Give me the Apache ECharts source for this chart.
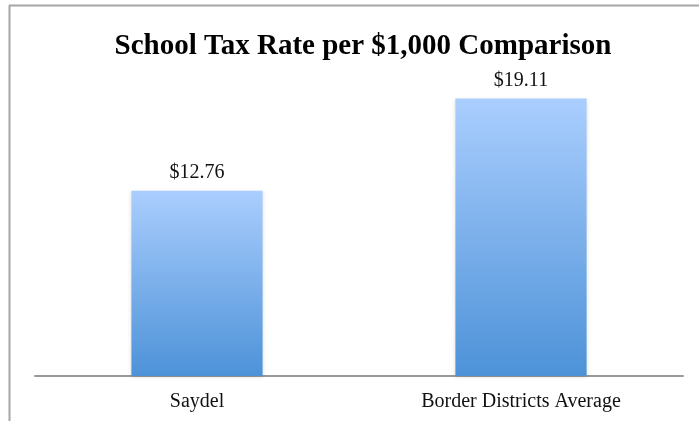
<!DOCTYPE html>
<html><head><meta charset="utf-8">
<script src="https://cdn.jsdelivr.net/npm/echarts@6/dist/echarts.min.js"></script>
<style>html,body{margin:0;padding:0;background:#fff}#c{width:699px;height:421px}</style>
</head><body><div id="c"></div>
<script>
var categories = ['Saydel', 'Border Districts Average'];
var values = [12.76, 19.11];
var titleText = 'School Tax Rate per $1,000 Comparison';

var chart = echarts.init(document.getElementById('c'));
chart.setOption({
  backgroundColor: '#fff',
  animation: false,
  title: {
    text: titleText, left: 358, top: 27, textAlign: 'center',
    textStyle: {fontFamily: 'Liberation Serif', fontWeight: 'bold', fontSize: 29, color: '#000'}
  },
  grid: {left: 35, right: 16, top: 13, bottom: 45},
  xAxis: {
    type: 'category', data: categories,
    axisLine: {lineStyle: {color: '#999', width: 2}},
    axisTick: {show: false},
    axisLabel: {fontFamily: 'Liberation Serif', fontSize: 20, color: '#111', margin: 16}
  },
  yAxis: {type: 'value', min: 0, max: 25, show: false, splitLine: {show: false}},
  series: [{
    type: 'bar', data: values, barWidth: '40.5%',
    itemStyle: {
      color: new echarts.graphic.LinearGradient(0, 0, 0, 1, [
        {offset: 0, color: '#aacefe'}, {offset: 1, color: '#4d92d8'}
      ]),
      shadowColor: 'rgba(0,0,0,0.12)', shadowBlur: 4, shadowOffsetY: 1
    },
    label: {
      show: true, position: 'top', distance: 8,
      formatter: function(p){ return '$' + p.value.toFixed(2); },
      fontFamily: 'Liberation Serif', fontSize: 20, color: '#111'
    }
  }],
  graphic: [
    {type: 'line', shape: {x1: 9, y1: 5.5, x2: 699, y2: 5.5}, style: {stroke: '#a6a6a6', lineWidth: 2}},
    {type: 'line', shape: {x1: 9.5, y1: 5, x2: 9.5, y2: 421}, style: {stroke: '#a6a6a6', lineWidth: 2}}
  ]
});
</script></body></html>
